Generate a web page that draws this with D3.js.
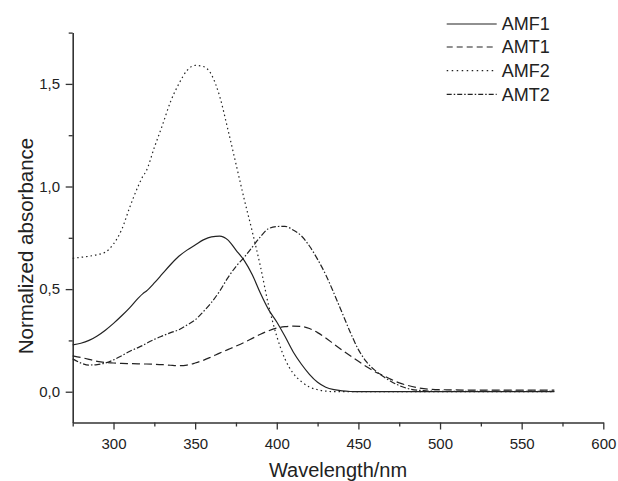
<!DOCTYPE html>
<html>
<head>
<meta charset="utf-8">
<script src="https://cdn.jsdelivr.net/npm/d3@7"></script>
<style>
  html, body { margin: 0; padding: 0; background: #fff; }
  svg { display: block; }
  text { font-family: "Liberation Sans", Arial, sans-serif; fill: #222; }
</style>
</head>
<body>
<svg id="chart" width="618" height="481"></svg>
<script>
const wavelength = [275,280,285,290,295,300,305,310,315,318,320,325,330,335,340,345,350,355,360,365,370,375,380,385,390,395,400,405,410,415,420,425,430,435,440,445,450,455,460,465,470,475,480,490,500,520,540,570];

const amf1 = [0.228,0.236,0.250,0.272,0.300,0.333,0.370,0.410,0.455,0.478,0.490,0.530,0.575,0.620,0.660,0.690,0.715,0.740,0.755,0.758,0.740,0.690,0.640,0.570,0.480,0.400,0.340,0.270,0.195,0.135,0.085,0.046,0.022,0.010,0.004,0.001,0.000,0.000,0.000,0.000,0.000,0.000,0.000,0.000,0.000,0.000,0.000,0.000];

const amt1 = [0.175,0.167,0.158,0.148,0.142,0.140,0.138,0.137,0.136,0.135,0.135,0.134,0.132,0.129,0.127,0.130,0.140,0.153,0.170,0.188,0.205,0.222,0.240,0.260,0.280,0.297,0.310,0.317,0.320,0.318,0.308,0.288,0.262,0.232,0.203,0.175,0.148,0.122,0.098,0.080,0.060,0.043,0.031,0.015,0.010,0.008,0.008,0.008];

const amf2 = [0.650,0.655,0.660,0.668,0.680,0.720,0.790,0.900,1.000,1.050,1.075,1.190,1.300,1.415,1.500,1.565,1.590,1.585,1.545,1.440,1.280,1.110,0.940,0.780,0.610,0.420,0.270,0.160,0.090,0.050,0.023,0.010,0.003,0.000,0.000,0.000,0.000,0.000,0.000,0.000,0.000,0.000,0.000,0.000,0.000,0.000,0.000,0.000];

const amt2 = [0.160,0.140,0.130,0.132,0.140,0.155,0.175,0.197,0.215,0.226,0.235,0.255,0.272,0.288,0.302,0.325,0.350,0.390,0.435,0.490,0.555,0.610,0.655,0.705,0.755,0.795,0.805,0.806,0.788,0.760,0.710,0.645,0.570,0.480,0.385,0.290,0.205,0.145,0.105,0.075,0.050,0.030,0.016,0.005,0.002,0.002,0.002,0.002];

const seriesNames = ["AMF1","AMT1","AMF2","AMT2"];
const seriesValues = [amf1, amt1, amf2, amt2];
const seriesDash = [null, "8,4", "1.5,3", "6,2,1.5,2"];
const legendDash = [null, "6,4", "1.5,3.5", "5,2,1.5,2"];

const xTickValues = [300,350,400,450,500,550,600];
const xMinorValues = [275,325,375,425,475,525,575];
const yTickValues = [0,0.5,1.0,1.5];
const yMinorValues = [0.25,0.75,1.25,1.75];
const yTickLabels = ["0,0","0,5","1,0","1,5"];

const xTitle = "Wavelength/nm";
const yTitle = "Normalized absorbance";

const margin = {left: 72.7, top: 32.6, right: 14.7, bottom: 58.5};
const W = 618, H = 481;
const svg = d3.select("#chart");

const x = d3.scaleLinear().domain([275, 600]).range([margin.left, W - margin.right]);
const y = d3.scaleLinear().domain([-0.15, 1.75]).range([H - margin.bottom, margin.top]);

const axisColor = "#333";

// minor ticks
svg.append("g").attr("transform", `translate(0,${y(-0.15)})`)
  .call(d3.axisBottom(x).tickValues(xMinorValues).tickSize(4).tickFormat(""))
  .call(g => g.select(".domain").remove())
  .call(g => g.selectAll("line").attr("stroke", axisColor).attr("stroke-width", 1.3));
svg.append("g").attr("transform", `translate(${x(275)},0)`)
  .call(d3.axisLeft(y).tickValues(yMinorValues).tickSize(4).tickFormat(""))
  .call(g => g.select(".domain").remove())
  .call(g => g.selectAll("line").attr("stroke", axisColor).attr("stroke-width", 1.3));

// major axes
const xAxis = svg.append("g").attr("transform", `translate(0,${y(-0.15)})`)
  .call(d3.axisBottom(x).tickValues(xTickValues).tickSize(7).tickSizeOuter(0).tickPadding(8.7).tickFormat(d3.format("d")));
const yAxis = svg.append("g").attr("transform", `translate(${x(275)},0)`)
  .call(d3.axisLeft(y).tickValues(yTickValues).tickSize(7).tickSizeOuter(0).tickPadding(5.7)
        .tickFormat((d,i) => yTickLabels[i]));

[xAxis, yAxis].forEach(g => {
  g.select(".domain").attr("stroke", axisColor).attr("stroke-width", 1.6);
  g.selectAll(".tick line").attr("stroke", axisColor).attr("stroke-width", 1.3);
  g.selectAll(".tick text").attr("font-size", 15).attr("fill", "#222")
    .attr("font-family", '"Liberation Sans", Arial, sans-serif');
});

// titles
svg.append("text").attr("x", (x(275) + x(600)) / 2).attr("y", 476.5)
  .attr("text-anchor", "middle").attr("font-size", 20).text(xTitle);
svg.append("text").attr("transform", `translate(33,246) rotate(-90)`)
  .attr("text-anchor", "middle").attr("font-size", 20.5).text(yTitle);

// lines
const line = d3.line().curve(d3.curveMonotoneX);
seriesValues.forEach((vals, i) => {
  const pts = wavelength.map((w, j) => [x(w), y(vals[j])]);
  svg.append("path").attr("d", line(pts))
    .attr("fill", "none").attr("stroke", "#222").attr("stroke-width", 1.2)
    .attr("stroke-dasharray", seriesDash[i]);
});

// legend
const legendY = [24, 47, 70.7, 94.3];
seriesNames.forEach((name, i) => {
  svg.append("line").attr("x1", 446.7).attr("x2", 496.7).attr("y1", legendY[i]).attr("y2", legendY[i])
    .attr("stroke", "#222").attr("stroke-width", 1.2).attr("stroke-dasharray", legendDash[i]);
  svg.append("text").attr("x", 501.7).attr("y", legendY[i]).attr("dy", "0.36em")
    .attr("font-size", 18).text(name);
});
</script>
</body>
</html>
